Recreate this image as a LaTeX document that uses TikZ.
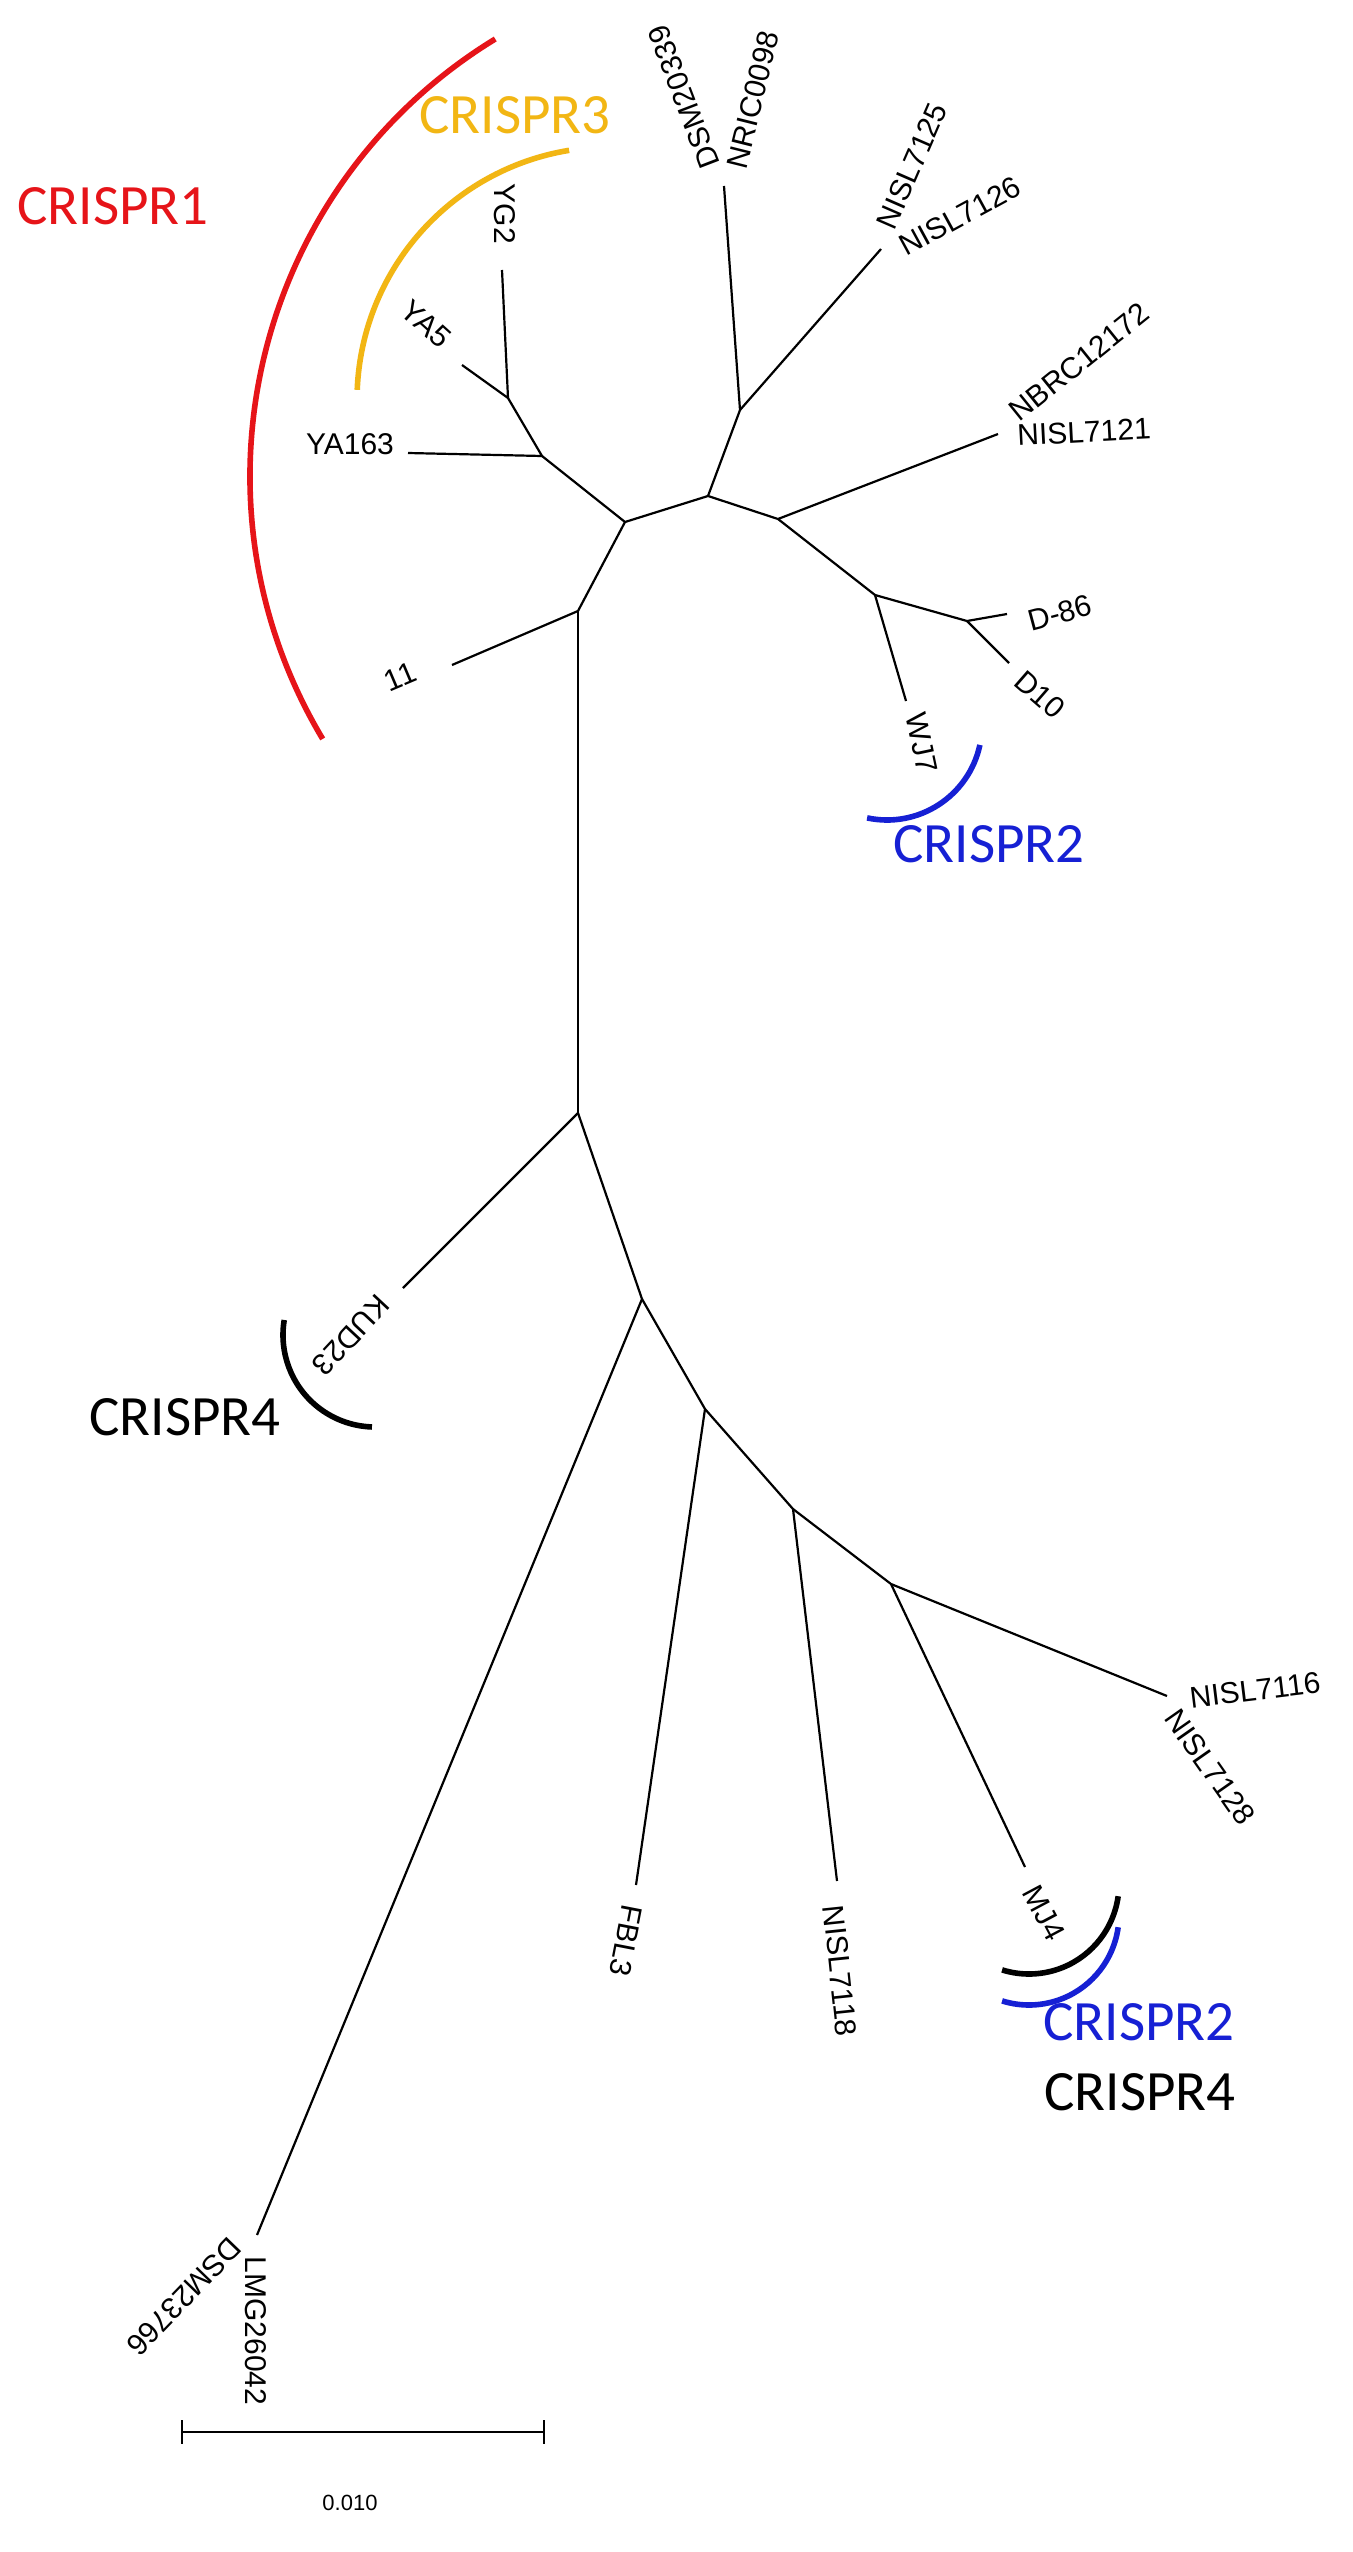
\documentclass[tikz,border=0pt]{standalone}
\usepackage{fontspec}
\setmainfont{Liberation Sans}
\newfontfamily\calib{Carlito}
\definecolor{crred}{RGB}{230,20,25}
\definecolor{crgold}{RGB}{242,182,20}
\definecolor{crblue}{RGB}{22,32,212}
\begin{document}
\begin{tikzpicture}[x=0.5pt,y=-0.5pt,
  br/.style={line width=1.1pt, black},
  lbl/.style={inner sep=0pt, font=\fontsize{15}{18}\selectfont},
  crl/.style={inner sep=0pt, font=\calib\fontsize{28.5}{34}\selectfont},
  arcline/.style={line width=2.8pt}]
\fill[white] (0,0) rectangle (1353,2552);
\useasboundingbox (0,0) rectangle (1353,2552);
% internal joints
\coordinate (j1) at (625,522);
\coordinate (jYA) at (542,456);
\coordinate (jYG) at (508,398);
\coordinate (j2) at (578,611);
\coordinate (jR) at (708,496);
\coordinate (jDSM) at (740,410);
\coordinate (jN) at (778,519);
\coordinate (jD) at (875,595);
\coordinate (jD2) at (967,621);
\coordinate (j3) at (578,1113);
\coordinate (j4) at (642,1299);
\coordinate (j5) at (705,1409);
\coordinate (j6) at (793,1509);
\coordinate (j7) at (891,1584);
% tips
\coordinate (tYG2) at (502,270);
\coordinate (tYA5) at (462,365);
\coordinate (tYA163) at (408,453);
\coordinate (t11) at (452,665);
\coordinate (tDSM) at (724,186);
\coordinate (tN25) at (881,249);
\coordinate (tNBRC) at (998,434);
\coordinate (tWJ7) at (906,701);
\coordinate (tD86) at (1007,614);
\coordinate (tD10) at (1009,663);
\coordinate (tKUD) at (403,1288);
\coordinate (tLMG) at (257,2235);
\coordinate (tFBL) at (636,1885);
\coordinate (t7118) at (837,1881);
\coordinate (t7116) at (1167,1696);
\coordinate (tMJ4) at (1025,1867);
% branches
\draw[br] (tYG2) -- (jYG) -- (tYA5);
\draw[br] (jYG) -- (jYA) -- (tYA163);
\draw[br] (jYA) -- (j1) -- (jR);
\draw[br] (j1) -- (j2) -- (t11);
\draw[br] (j2) -- (j3);
\draw[br] (jR) -- (jDSM) -- (tDSM);
\draw[br] (jDSM) -- (tN25);
\draw[br] (jR) -- (jN) -- (tNBRC);
\draw[br] (jN) -- (jD) -- (tWJ7);
\draw[br] (jD) -- (jD2) -- (tD86);
\draw[br] (jD2) -- (tD10);
\draw[br] (j3) -- (tKUD);
\draw[br] (j3) -- (j4) -- (tLMG);
\draw[br] (j4) -- (j5) -- (tFBL);
\draw[br] (j5) -- (j6) -- (t7118);
\draw[br] (j6) -- (j7) -- (t7116);
\draw[br] (j7) -- (tMJ4);
% leaf labels
\node[lbl, rotate=-90] (lYG2) at (505,214) {YG2};
\node[lbl, rotate=-42] (lYA5) at (426,324) {YA5};
\node[lbl] (lYA163) at (350,444) {YA163};
\node[lbl, rotate=23] (l11) at (400,677) {11};
\node[lbl, rotate=111] (lDSM20339) at (684,97) {DSM20339};
\node[lbl, rotate=76] (lNRIC) at (753,100) {NRIC0098};
\node[lbl, rotate=66.5] (lN7125) at (912,166) {NISL7125};
\node[lbl, rotate=28.6] (lN7126) at (960,216) {NISL7126};
\node[lbl, rotate=38.8] (lNBRC) at (1079,362) {NBRC12172};
\node[lbl, rotate=3] (lN7121) at (1084,432) {NISL7121};
\node[lbl, rotate=15] (lD86) at (1060,613) {D-86};
\node[lbl, rotate=-41] (lD10) at (1040,695) {D10};
\node[lbl, rotate=-78] (lWJ7) at (922,743) {WJ7};
\node[lbl, rotate=227] (lKUD) at (351,1335) {KUD23};
\node[lbl, rotate=7] (lN7116) at (1255,1690) {NISL7116};
\node[lbl, rotate=-55] (lN7128) at (1210,1767) {NISL7128};
\node[lbl, rotate=-62] (lMJ4) at (1044,1913) {MJ4};
\node[lbl, rotate=-84] (lN7118) at (840,1971) {NISL7118};
\node[lbl, rotate=-101] (lFBL) at (626,1941) {FBL3};
\node[lbl, rotate=-90] (lLMG) at (256,2331) {LMG26042};
\node[lbl, rotate=226] (lDSM23766) at (184,2297) {DSM23766};
% CRISPR arcs
\draw[arcline, crred] (762,476) ++(238.6:512) arc[start angle=238.6, end angle=149.1, radius=512];
\draw[arcline, crgold] (610,400) ++(260.7:253) arc[start angle=260.7, end angle=182.3, radius=253];
\draw[arcline, crblue] (887,725) ++(12.1:95) arc[start angle=12.1, end angle=102.1, radius=95];
\draw[arcline, black] (375,1335) ++(189.4:92) arc[start angle=189.4, end angle=91.9, radius=92];
\draw[arcline, black] (1029,1884) ++(7.8:90) arc[start angle=7.8, end angle=107.4, radius=90];
\draw[arcline, crblue] (1029,1915) ++(7.8:90) arc[start angle=7.8, end angle=107.4, radius=90];
% CRISPR labels
\node[crl, text=crred] (c1) at (113,206) {CRISPR1};
\node[crl, text=crgold] (c3) at (515,115) {CRISPR3};
\node[crl, text=crblue] (c2a) at (989,844) {CRISPR2};
\node[crl, text=black] (c4a) at (185,1417) {CRISPR4};
\node[crl, text=crblue] (c2b) at (1139,2022) {CRISPR2};
\node[crl, text=black] (c4b) at (1140,2092) {CRISPR4};
% scale bar
\coordinate (sbL) at (182,2432);
\coordinate (sbR) at (544,2432);
\draw[br] (sbL) -- (sbR);
\draw[br] (sbL) ++(0,-12) -- ++(0,24);
\draw[br] (sbR) ++(0,-12) -- ++(0,24);
\node[inner sep=0pt, font=\fontsize{11}{13}\selectfont] (sblabel) at (350,2503) {0.010};
\end{tikzpicture}
\end{document}
